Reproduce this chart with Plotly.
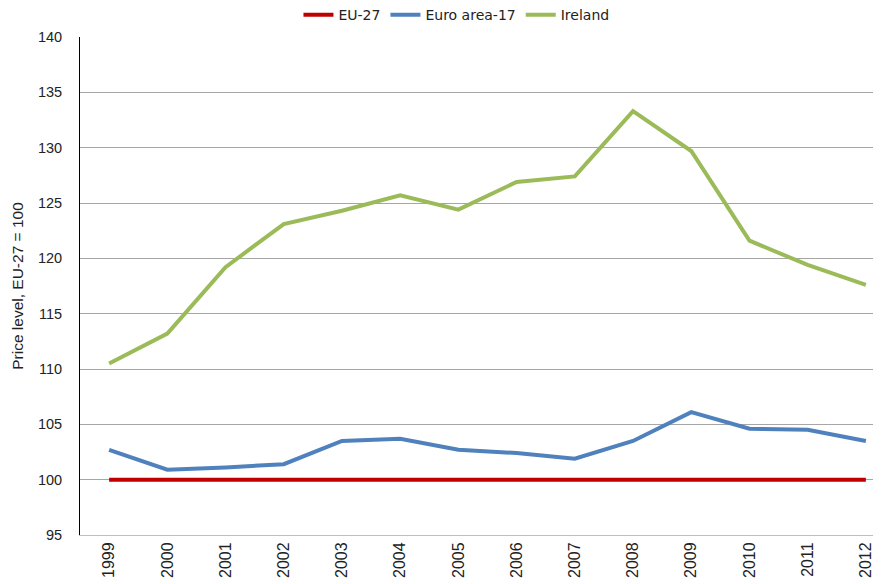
import plotly.graph_objects as go

years = ["1999", "2000", "2001", "2002", "2003", "2004", "2005",
         "2006", "2007", "2008", "2009", "2010", "2011", "2012"]
eu27 = [100, 100, 100, 100, 100, 100, 100, 100, 100, 100, 100, 100, 100, 100]
euro_area17 = [102.7, 100.9, 101.1, 101.4, 103.5, 103.7, 102.7,
               102.4, 101.9, 103.5, 106.1, 104.6, 104.5, 103.5]
ireland = [110.5, 113.2, 119.2, 123.1, 124.3, 125.7, 124.4,
           126.9, 127.4, 133.3, 129.7, 121.6, 119.4, 117.6]

FONT = "Liberation Sans, Arial, sans-serif"
LFONT = "DejaVu Sans, Verdana, sans-serif"
TXT = "#222222"

fig = go.Figure()
fig.add_trace(go.Scatter(x=years, y=eu27, name="EU-27", mode="lines",
                         line=dict(color="#C00000", width=4)))
fig.add_trace(go.Scatter(x=years, y=euro_area17, name="Euro area-17", mode="lines",
                         line=dict(color="#4F81BD", width=4)))
fig.add_trace(go.Scatter(x=years, y=ireland, name="Ireland", mode="lines",
                         line=dict(color="#9BBB59", width=4)))

fig.update_layout(
    width=873, height=576,
    margin=dict(l=72, r=0, t=29, b=49, autoexpand=False),
    paper_bgcolor="white", plot_bgcolor="white",
    font=dict(family=FONT, size=15, color=TXT),
    showlegend=True,
    legend=dict(orientation="h", x=0.47, xanchor="center", y=1.044, yanchor="middle",
                font=dict(family=LFONT, size=14, color=TXT),
                itemwidth=30, tracegroupgap=0, bgcolor="rgba(0,0,0,0)"),
    xaxis=dict(type="category", range=[-0.5, 13.26], tickangle=-90,
               showgrid=False, showline=True, linecolor="#BFBFBF", linewidth=1,
               ticks="", automargin=False,
               tickfont=dict(family=FONT, size=16, color=TXT),
               fixedrange=True),
    yaxis=dict(range=[95, 140], dtick=5, showgrid=True, gridcolor="#A6A6A6",
               gridwidth=1, showline=True, linecolor="black", linewidth=1,
               zeroline=False, ticks="", ticklabelstandoff=14, automargin=False,
               tickfont=dict(family=FONT, size=14.5, color=TXT),
               title=dict(text="Price level, EU-27 = 100", standoff=10,
                          font=dict(family=FONT, size=15.5, color=TXT))),
)

fig.write_html("out.html")
